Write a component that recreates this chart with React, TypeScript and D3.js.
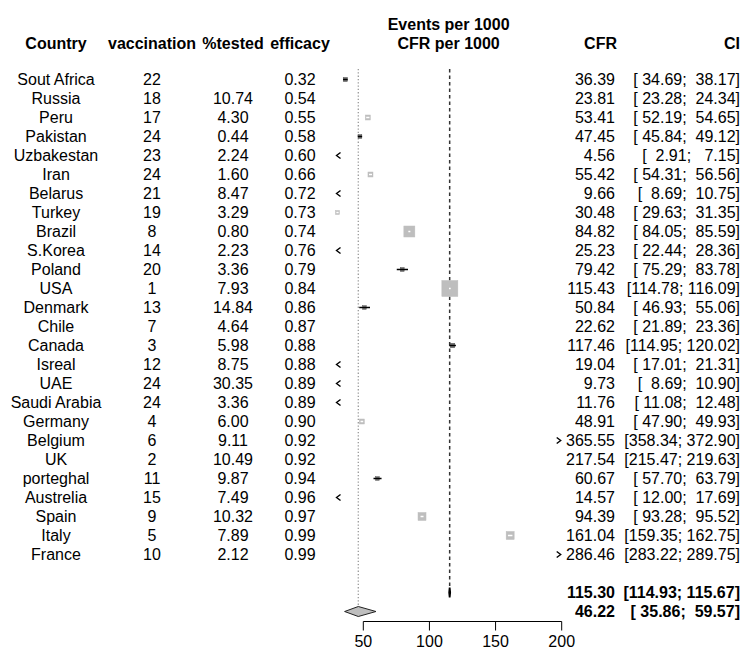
import React from 'react';
import * as d3 from 'd3';

const countries = ['Sout Africa','Russia','Peru','Pakistan','Uzbakestan','Iran','Belarus','Turkey','Brazil','S.Korea','Poland','USA','Denmark','Chile','Canada','Isreal','UAE','Saudi Arabia','Germany','Belgium','UK','porteghal','Austrelia','Spain','Italy','France'];
const vaccination = ['22','18','17','24','23','24','21','19','8','14','20','1','13','7','3','12','24','24','4','6','2','11','15','9','5','10'];
const tested = ['','10.74','4.30','0.44','2.24','1.60','8.47','3.29','0.80','2.23','3.36','7.93','14.84','4.64','5.98','8.75','30.35','3.36','6.00','9.11','10.49','9.87','7.49','10.32','7.89','2.12'];
const efficacy = ['0.32','0.54','0.55','0.58','0.60','0.66','0.72','0.73','0.74','0.76','0.79','0.84','0.86','0.87','0.88','0.88','0.89','0.89','0.90','0.92','0.92','0.94','0.96','0.97','0.99','0.99'];
const cfr = [36.39,23.81,53.41,47.45,4.56,55.42,9.66,30.48,84.82,25.23,79.42,115.43,50.84,22.62,117.46,19.04,9.73,11.76,48.91,365.55,217.54,60.67,14.57,94.39,161.04,286.46];
const ciLow = [34.69,23.28,52.19,45.84,2.91,54.31,8.69,29.63,84.05,22.44,75.29,114.78,46.93,21.89,114.95,17.01,8.69,11.08,47.90,358.34,215.47,57.70,12.00,93.28,159.35,283.22];
const ciHigh = [38.17,24.34,54.65,49.12,7.15,56.56,10.75,31.35,85.59,28.36,83.78,116.09,55.06,23.36,120.02,21.31,10.90,12.48,49.93,372.90,219.63,63.79,17.69,95.52,162.75,289.75];
const weights = [1.7,9.5,2.5,1.4,0.1,2.5,1.9,1.6,12.1,0.3,1.5,25.6,1.3,5.0,2.0,0.5,1.8,3.8,2.5,1.7,5.5,1.3,0.2,6.4,6.4,3.6];
const clipArrows = ['','','','','<','','<','','','<','','','','','','<','<','<','','>','','','<','','','>'];

const commonEffect = { est: 115.30, lo: 114.93, hi: 115.67 };
const randomEffect = { est: 46.22, lo: 35.86, hi: 59.57 };
const axisTicks = [50, 100, 150, 200];
const xLimits = [29, 200];

const FONT = '"Liberation Sans", Arial, Helvetica, sans-serif';

const fmt = (v: number) => v.toFixed(2);
const pad6 = (s: string) => s.padStart(6, ' ');
const ciText = (lo: number, hi: number) => `[${pad6(fmt(lo))}; ${pad6(fmt(hi))}]`;

export default function App() {
  const x = d3.scaleLinear().domain([50, 200]).range([363.3, 561.7]);
  const rowY = d3.scaleLinear().domain([0, 1]).range([79.5, 98.5]);
  const size = d3.scaleSqrt().domain([0, 25.6]).range([0, 16]);
  const n = countries.length;
  const commonRow = n + 1;
  const randomRow = n + 2;
  const base = 5.6;

  const colCountry = 56, colVacc = 152, colTested = 233, colEff = 300;
  const colCFR = 615, colCI = 740;
  const axisY = 621.5;

  const leftEdge = x(xLimits[0]);
  const rightEdge = x(xLimits[1]);

  const txt = { fontFamily: FONT, fontSize: 16, fill: '#000' } as const;
  const bold = { ...txt, fontWeight: 'bold' } as const;

  const diamond = (e: { est: number; lo: number; hi: number }, cy: number, h: number) =>
    `M${x(e.lo)},${cy} L${x(e.est)},${cy - h} L${x(e.hi)},${cy} L${x(e.est)},${cy + h} Z`;

  return (
    <svg width={745} height={655} style={{ position: 'absolute', left: 0, top: 0, background: '#fff' }}>
      <rect width={745} height={655} fill="#fff" />
      {/* headers */}
      <text x={colCountry} y={49} textAnchor="middle" style={bold}>Country</text>
      <text x={colVacc} y={49} textAnchor="middle" style={bold}>vaccination</text>
      <text x={colTested} y={49} textAnchor="middle" style={bold}>%tested</text>
      <text x={colEff} y={49} textAnchor="middle" style={bold}>efficacy</text>
      <text x={(leftEdge + rightEdge) / 2} y={30} textAnchor="middle" style={bold}>Events per 1000</text>
      <text x={(leftEdge + rightEdge) / 2} y={49} textAnchor="middle" style={bold}>CFR per 1000</text>
      <text x={colCFR + 2} y={49} textAnchor="end" style={bold}>CFR</text>
      <text x={colCI} y={49} textAnchor="end" style={bold}>CI</text>

      {/* reference lines */}
      <line x1={x(randomEffect.est)} x2={x(randomEffect.est)} y1={69} y2={rowY(randomRow) - 5}
        stroke="#9a9a9a" strokeWidth={1.3} strokeDasharray="1.3,2" />
      <line x1={x(commonEffect.est)} x2={x(commonEffect.est)} y1={69} y2={rowY(commonRow) - 5}
        stroke="#333" strokeWidth={1.5} strokeDasharray="3.5,3" />

      {/* rows */}
      {countries.map((c, i) => {
        const cy = rowY(i);
        const ty = cy + base;
        const inRange = ciLow[i] >= xLimits[0] && ciHigh[i] <= xLimits[1];
        const s = size(weights[i]);
        const x0 = x(ciLow[i]), x1 = x(ciHigh[i]), xc = x(cfr[i]);
        const inside = x1 - x0 <= s;
        return (
          <g key={c}>
            <text x={colCountry} y={ty} textAnchor="middle" style={txt}>{c}</text>
            <text x={colVacc} y={ty} textAnchor="middle" style={txt}>{vaccination[i]}</text>
            <text x={colTested} y={ty} textAnchor="middle" style={txt}>{tested[i]}</text>
            <text x={colEff} y={ty} textAnchor="middle" style={txt}>{efficacy[i]}</text>
            <text x={colCFR} y={ty} textAnchor="end" style={{ ...txt, whiteSpace: 'pre' }}>{fmt(cfr[i])}</text>
            <text x={colCI} y={ty} textAnchor="end" style={{ ...txt, whiteSpace: 'pre' }}>{ciText(ciLow[i], ciHigh[i])}</text>
            {inRange && (
              <g>
                <rect x={xc - s / 2} y={cy - s / 2} width={s} height={s}
                  fill={inside ? '#bebebe' : '#777'} stroke={inside ? '#bebebe' : '#555'} strokeWidth={0.5} />
                <line x1={x0} x2={x1} y1={cy} y2={cy} stroke={inside ? '#fff' : '#000'} strokeWidth={1.5} />
              </g>
            )}
            {clipArrows[i] === '<' && (
              <path d={`M${leftEdge + 5},${cy - 3} L${leftEdge + 1},${cy} L${leftEdge + 5},${cy + 3}`} fill="none" stroke="#000" strokeWidth={1.4} />
            )}
            {clipArrows[i] === '>' && (
              <path d={`M${rightEdge - 5},${cy - 3} L${rightEdge - 1},${cy} L${rightEdge - 5},${cy + 3}`} fill="none" stroke="#000" strokeWidth={1.4} />
            )}
          </g>
        );
      })}

      {/* summaries */}
      <path d={diamond(commonEffect, rowY(commonRow), 5)} fill="#000" stroke="#000" strokeWidth={1.8} />
      <text x={colCFR} y={rowY(commonRow) + base} textAnchor="end" style={{ ...bold, whiteSpace: 'pre' }}>{fmt(commonEffect.est)}</text>
      <text x={colCI} y={rowY(commonRow) + base} textAnchor="end" style={{ ...bold, whiteSpace: 'pre' }}>{ciText(commonEffect.lo, commonEffect.hi)}</text>

      <path d={diamond(randomEffect, rowY(randomRow), 5)} fill="#bebebe" stroke="#222" strokeWidth={1} />
      <text x={colCFR} y={rowY(randomRow) + base} textAnchor="end" style={{ ...bold, whiteSpace: 'pre' }}>{fmt(randomEffect.est)}</text>
      <text x={colCI} y={rowY(randomRow) + base} textAnchor="end" style={{ ...bold, whiteSpace: 'pre' }}>{ciText(randomEffect.lo, randomEffect.hi)}</text>

      {/* axis */}
      <g>
        <line x1={x(axisTicks[0])} x2={x(axisTicks[axisTicks.length - 1])} y1={axisY} y2={axisY} stroke="#000" strokeWidth={1} />
        {axisTicks.map((t) => (
          <g key={t}>
            <line x1={x(t)} x2={x(t)} y1={axisY} y2={axisY + 9} stroke="#000" strokeWidth={1} />
            <text x={x(t)} y={647} textAnchor="middle" style={txt}>{t}</text>
          </g>
        ))}
      </g>
    </svg>
  );
}
